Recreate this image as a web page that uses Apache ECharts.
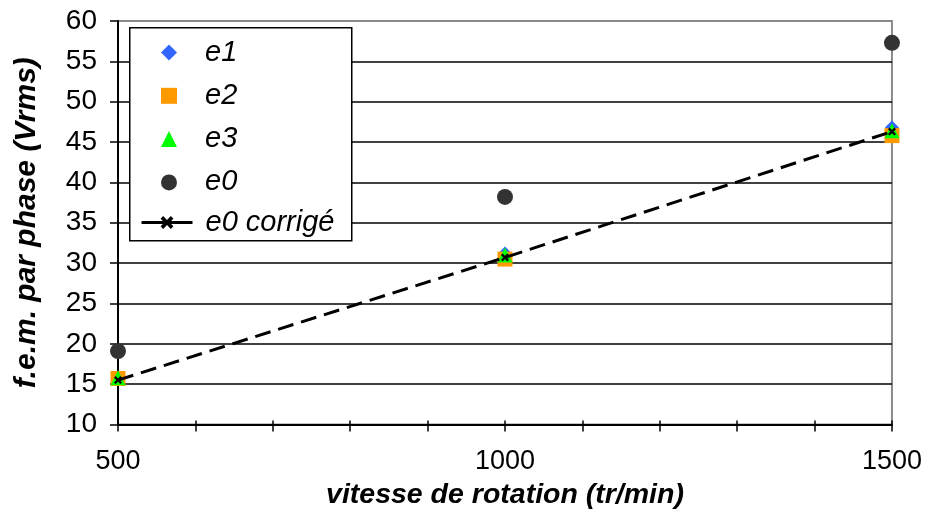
<!DOCTYPE html>
<html>
<head>
<meta charset="utf-8">
<script src="https://cdn.jsdelivr.net/npm/echarts@6/dist/echarts.min.js"></script>
<style>html,body{margin:0;padding:0;background:#fff;}#chart{width:925px;height:521px;}</style>
</head>
<body>
<div id="chart"></div>
<script>
const speeds = [500, 1000, 1500];
const e1 = [15.8, 31.2, 46.8];
const e2 = [15.7, 30.5, 45.8];
const e3 = [15.8, 31.0, 46.4];
const e0 = [19.1, 38.2, 57.3];
const e0corrige = [15.5, 30.7, 46.3];
const xTickLabels = ['500', '1000', '1500'];
const pointSeriesNames = ['e1', 'e2', 'e3', 'e0'];
const lineSeriesName = 'e0 corrigé';

const FONT = '"Liberation Sans", Arial, sans-serif';
const pairs = arr => speeds.map((s, i) => [s, arr[i]]);
const crossPath = 'path://M2,0L5,3L8,0L10,2L7,5L10,8L8,10L5,7L2,10L0,8L3,5L0,2Z';
const legendText = {fontFamily: FONT, fontStyle: 'italic', fontSize: 29, color: '#000', lineHeight: 28};

const chart = echarts.init(document.getElementById('chart'), null, {renderer: 'canvas'});
chart.setOption({
  animation: false,
  backgroundColor: '#fff',
  grid: {left: 118, right: 32, top: 21, bottom: 96.5, show: true, borderColor: '#8a8a8a', borderWidth: 2, backgroundColor: 'transparent'},
  graphic: [{
    type: 'rect', left: 129, top: 27, z: 3,
    shape: {width: 222, height: 213},
    style: {fill: '#fff', stroke: '#000', lineWidth: 1.5}
  }],
  legend: [{
    orient: 'vertical', left: 161, top: 38, padding: 0,
    data: pointSeriesNames,
    itemWidth: 16, itemHeight: 16, itemGap: 14.3,
    textStyle: Object.assign({padding: [0, 0, 0, 23]}, legendText)
  }, {
    orient: 'vertical', left: 140, top: 208, padding: 0,
    data: [lineSeriesName],
    itemWidth: 51, itemHeight: 16,
    lineStyle: {type: 'solid', width: 3},
    textStyle: Object.assign({padding: [0, 0, 0, 8]}, legendText)
  }],
  xAxis: [{
    type: 'value', min: 500, max: 1500, interval: 100,
    axisLine: {show: true, lineStyle: {color: '#000', width: 2}},
    axisTick: {show: true, length: 7, lineStyle: {color: '#000', width: 1.5}},
    splitLine: {show: false},
    axisLabel: {
      margin: 24, fontFamily: FONT, fontSize: 27, color: '#000',
      formatter: v => xTickLabels.indexOf(String(v)) >= 0 ? String(v) : ''
    },
    name: 'vitesse de rotation (tr/min)', nameLocation: 'middle', nameGap: 56,
    nameTextStyle: {fontFamily: FONT, fontWeight: 'bold', fontStyle: 'italic', fontSize: 28.5, color: '#000'}
  }, {
    type: 'value', min: 500, max: 1500, interval: 100, position: 'bottom',
    axisLine: {show: false}, axisLabel: {show: false}, splitLine: {show: false},
    axisTick: {show: true, inside: true, length: 4, lineStyle: {color: '#000', width: 1.5}}
  }],
  yAxis: {
    type: 'value', min: 10, max: 60, interval: 5,
    axisLine: {show: true, lineStyle: {color: '#000', width: 2}},
    axisTick: {show: true, length: 8, lineStyle: {color: '#000', width: 1.5}},
    splitLine: {show: true, showMinLine: false, showMaxLine: false, lineStyle: {color: '#000', width: 1.5}},
    axisLabel: {margin: 21, fontFamily: FONT, fontSize: 28, color: '#000'},
    name: 'f.e.m. par phase (Vrms)', nameLocation: 'middle', nameGap: 76,
    nameTextStyle: {fontFamily: FONT, fontWeight: 'bold', fontStyle: 'italic', fontSize: 30, color: '#000'}
  },
  series: [
    {name: 'e1', type: 'scatter', data: pairs(e1), symbol: 'diamond', symbolSize: 14, itemStyle: {color: '#3366ff', opacity: 1}},
    {name: 'e2', type: 'scatter', data: pairs(e2), symbol: 'rect', symbolSize: 15, itemStyle: {color: '#ff9900', opacity: 1}},
    {name: 'e3', type: 'scatter', data: pairs(e3), symbol: 'triangle', symbolSize: 15, itemStyle: {color: '#00ff00', opacity: 1}},
    {name: 'e0', type: 'scatter', data: pairs(e0), symbol: 'circle', symbolSize: 16, itemStyle: {color: '#333333', opacity: 1}},
    {name: lineSeriesName, type: 'line', data: pairs(e0corrige), symbol: crossPath, symbolSize: 8,
     itemStyle: {color: '#000'}, lineStyle: {color: '#000', width: 3, type: [16, 8]}, z: 5}
  ]
});
</script>
</body>
</html>
